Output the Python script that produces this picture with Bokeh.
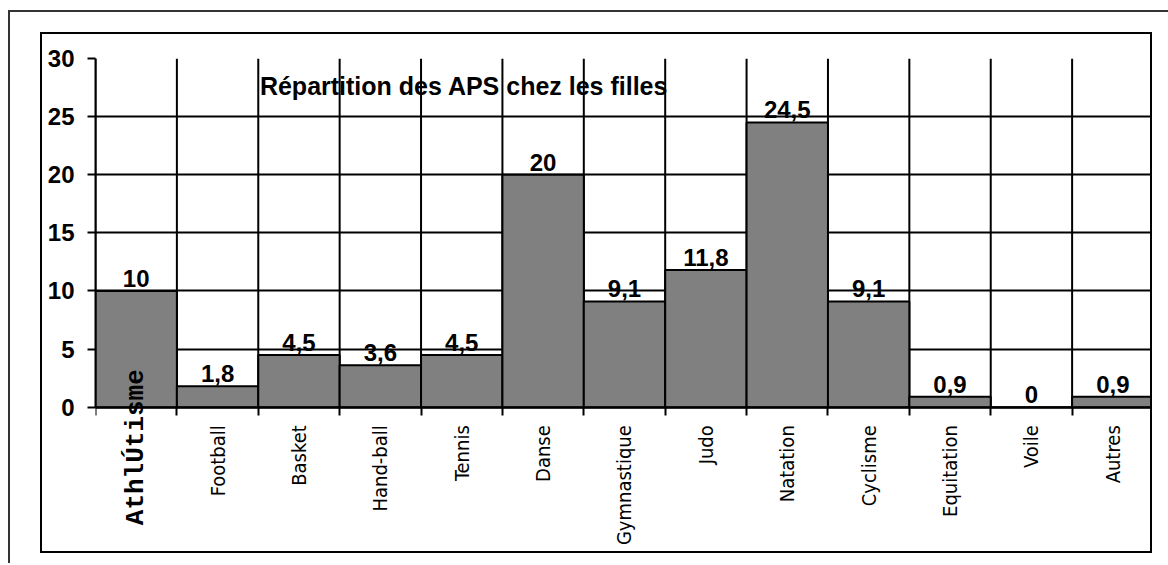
import math
from bokeh.plotting import figure
from bokeh.layouts import column
from bokeh.models import FixedTicker, Label, ColumnDataSource, Range1d
from bokeh.core.properties import value
from bokeh.embed import file_html
from bokeh.resources import INLINE

categories = ["Athlétisme", "Football", "Basket", "Hand-ball", "Tennis", "Danse",
              "Gymnastique", "Judo", "Natation", "Cyclisme", "Equitation", "Voile", "Autres"]
values = [10, 1.8, 4.5, 3.6, 4.5, 20, 9.1, 11.8, 24.5, 9.1, 0.9, 0, 0.9]
y_ticks = [0, 5, 10, 15, 20, 25, 30]
title_text = "Répartition des APS chez les filles"
first_label_text = "AthlÚtisme"

n = len(categories)
centers = [i + 0.5 for i in range(n)]
bounds = [float(i) for i in range(n + 1)]
labels = [("%g" % v).replace(".", ",") for v in values]
ymin, ymax = y_ticks[0], y_ticks[-1]

src = ColumnDataSource(dict(x=centers, top=values, lab=labels))

# frame: 30 units over 348 px, ~148 px of label room under zero
p = figure(width=1112, height=521, x_range=Range1d(0, n),
           y_range=Range1d(-ymax * 148 / 348, ymax),
           output_backend="svg", toolbar_location=None,
           min_border_left=53, min_border_right=1, min_border_top=24, min_border_bottom=0)
p.styles = {"border": "2px solid black"}
p.outline_line_color = None

# horizontal grid (incl. top line at 30)
p.xgrid.visible = False
p.ygrid.ticker = FixedTicker(ticks=y_ticks)
p.ygrid.grid_line_color = "black"
p.ygrid.grid_line_width = 2

# vertical grid lines at category boundaries, from 0 to 30
p.segment(x0=bounds, y0=[ymin] * len(bounds), x1=bounds, y1=[ymax] * len(bounds),
          line_color="black", line_width=2)

p.vbar(x="x", top="top", width=1.0, bottom=0, source=src,
       fill_color="#808080", line_color="black", line_width=2)

p.text(x="x", y="top", text="lab", source=src, text_align="center", text_baseline="bottom",
       y_offset=-4, text_font=value("Liberation Sans"), text_font_style="bold",
       text_font_size="24px", text_color="black")

# y axis
ya = p.yaxis[0]
ya.ticker = FixedTicker(ticks=y_ticks)
ya.bounds = (ymin, ymax)
ya.axis_line_color = "black"
ya.axis_line_width = 2
ya.major_tick_out = 8
ya.major_tick_in = 0
ya.major_tick_line_width = 2
ya.minor_tick_line_color = None
ya.major_label_standoff = 13
ya.major_label_text_font = "Liberation Sans"
ya.major_label_text_font_style = "bold"
ya.major_label_text_font_size = "24px"
ya.major_label_text_color = "black"

# x axis, drawn at y = 0
xa = p.xaxis[0]
xa.fixed_location = 0
xa.ticker = FixedTicker(ticks=centers, minor_ticks=bounds)
xa.axis_line_color = "black"
xa.axis_line_width = 2
xa.major_tick_out = 0
xa.major_tick_in = 0
xa.minor_tick_out = 8
xa.minor_tick_in = 0
xa.minor_tick_line_color = "black"
xa.minor_tick_line_width = 2
xa.major_label_overrides = {c: (lab if i > 0 else "") for i, (c, lab) in enumerate(zip(centers, categories))}
xa.major_label_orientation = math.pi / 2
xa.major_label_standoff = 10
xa.major_label_text_font = "DejaVu Sans Condensed"
xa.major_label_text_font_size = "20px"
xa.major_label_text_color = "black"

p.add_layout(Label(x=centers[0], y=0, text=first_label_text, angle=math.pi / 2,
                   text_align="right", text_baseline="middle", y_offset=38,
                   text_font="Liberation Mono", text_font_style="bold",
                   text_font_size="26px", text_color="black"))

p.add_layout(Label(x=2.02, y=27.6, text=title_text, text_align="left", text_baseline="middle",
                   text_font="Liberation Sans", text_font_style="bold",
                   text_font_size="25px", text_color="black"))

layout = column(p, width=1160, height=553,
                styles={"margin-top": "10px", "margin-left": "8px",
                        "border-top": "2px solid #333", "border-left": "2px solid #333",
                        "padding-left": "30px", "padding-top": "20px"})

open("out.html", "w").write(file_html(layout, INLINE))
